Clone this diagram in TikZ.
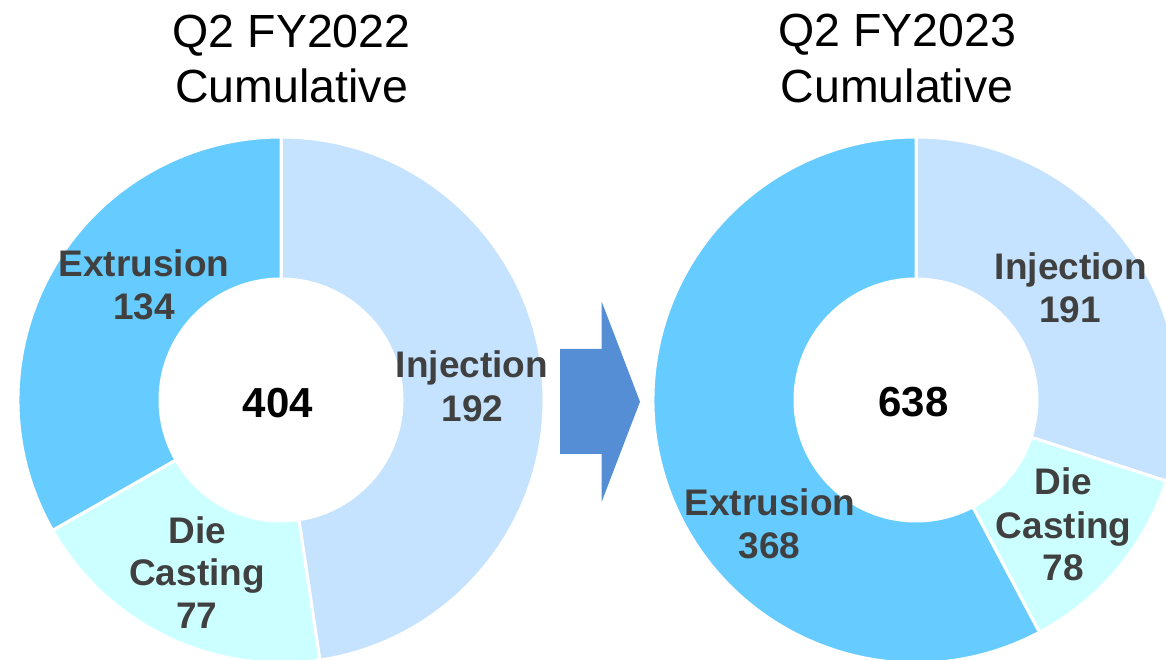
\documentclass[tikz,border=0pt]{standalone}
\usepackage{fontspec}
\setmainfont{Liberation Sans}
\definecolor{extcol}{HTML}{66CCFF}
\definecolor{injcol}{HTML}{C5E3FE}
\definecolor{diecol}{HTML}{CCFFFF}
\definecolor{arrowcol}{HTML}{558ED5}
\definecolor{labelgray}{HTML}{404040}
% one ring segment: centre, start angle, end angle, fill colour
\newcommand\donutpart[4]{%
  \fill[slice, fill=#4] ([shift={(#2:263)}]#1)
    arc[start angle=#2, end angle=#3, radius=263]
    -- ([shift={(#3:121)}]#1)
    arc[start angle=#3, end angle=#2, radius=121] -- cycle;}
\begin{document}
\begin{tikzpicture}[x=1pt, y=1pt,
  slice/.style={draw=white, line width=3pt, line join=miter},
  charttitle/.style={font=\fontsize{46.5}{56}\selectfont, anchor=base, inner sep=0pt},
  lbl/.style={font=\fontsize{37}{44}\selectfont\bfseries, text=labelgray, anchor=base, inner sep=0pt},
  total/.style={font=\fontsize{42}{50}\selectfont\bfseries, anchor=base, inner sep=0pt}]
\useasboundingbox (0,0) rectangle (1166,660);
\clip (0,0) rectangle (1166,660);

\coordinate (cL) at (281,260);
\coordinate (cR) at (916,260);

% left ring: total 403
\donutpart{cL}{90}{-81.51}{injcol}
\donutpart{cL}{-81.51}{-150.29}{diecol}
\donutpart{cL}{-150.29}{-270}{extcol}

% right ring: total 637
\donutpart{cR}{90}{-17.94}{injcol}
\donutpart{cR}{-17.94}{-62.02}{diecol}
\donutpart{cR}{-62.02}{-270}{extcol}

% titles
\node[charttitle] (tL1) at (291.7,612.7) {Q2 FY2022};
\node[charttitle] (tL2) at (291.7,557.3) {Cumulative};
\node[charttitle] (tR1) at (897,613.3) {Q2 FY2023};
\node[charttitle] (tR2) at (897,557.3) {Cumulative};

% left labels
\node[lbl] (lExt) at (144,383.3) {Extrusion};
\node[lbl] (lExtV) at (144,340.3) {134};
\node[lbl] (lInj) at (472,282.4) {Injection};
\node[lbl] (lInjV) at (472.5,238.7) {192};
\node[lbl] (lDie1) at (197.5,116.4) {Die};
\node[lbl] (lDie2) at (197,74.4) {Casting};
\node[lbl] (lDieV) at (197,31) {77};
\node[total] (lTot) at (278,242.3) {404};

% right labels
\node[lbl] (rInj) at (1071,380.9) {Injection};
\node[lbl] (rInjV) at (1070,337.5) {191};
\node[lbl] (rDie1) at (1063.5,165.3) {Die};
\node[lbl] (rDie2) at (1063.7,121.6) {Casting};
\node[lbl] (rDieV) at (1063.5,79.3) {78};
\node[lbl] (rExt) at (770,144.7) {Extrusion};
\node[lbl] (rExtV) at (769.7,101) {368};
\node[total] (rTot) at (913.4,243.2) {638};

% block arrow between the rings
\fill[arrowcol] (560,311) -- (601.7,311) -- (601.7,358.3) -- (640,258.3)
  -- (601.7,158.3) -- (601.7,206) -- (560,206) -- cycle;
\end{tikzpicture}
\end{document}
